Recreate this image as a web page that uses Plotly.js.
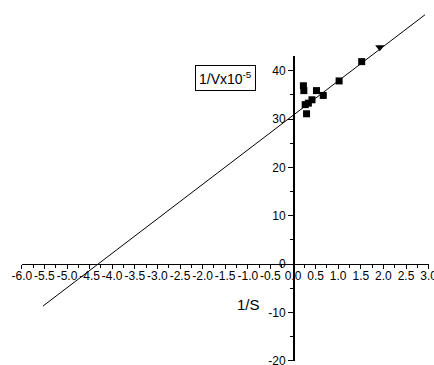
<!DOCTYPE html>
<html>
<head>
<meta charset="utf-8">
<script src="https://cdn.plot.ly/plotly-3.0.1.min.js"></script>
<style>
html,body{margin:0;padding:0;background:#fff;}
#chart{width:434px;height:365px;}
</style>
</head>
<body>
<div id="chart"></div>
<script>
// Data (1/S vs 1/V x 10^-5)
var sqX = [0.23, 0.24, 0.27, 0.30, 0.34, 0.42, 0.52, 0.67, 1.02, 1.52];
var sqY = [36.9, 35.9, 33.0, 31.1, 33.3, 34.0, 35.9, 34.9, 37.9, 41.9];
var triX = [1.92];
var triY = [44.9];
var fitX = [-5.53, 2.92];
var fitY = [-8.7, 51.6];
var xTickVals = [-6,-5.5,-5,-4.5,-4,-3.5,-3,-2.5,-2,-1.5,-1,-0.5,0,0.5,1,1.5,2,2.5,3];
var xTickText = ['-6.0','-5.5','-5.0','-4.5','-4.0','-3.5','-3.0','-2.5','-2.0','-1.5','-1.0','-0.5','0.0','0.5','1.0','1.5','2.0','2.5','3.0'];
var yTickVals = [-20,-10,0,10,20,30,40];
var yTickText = ['-20','-10','0','10','20','30','40'];

var W = 434, H = 365;
var x0px = 293, xScale = 45.2;   // px per unit
var y0px = 264, yScale = 4.83;   // px per unit

var xFull = [(0 - x0px) / xScale, (W - x0px) / xScale];
var yFull = [(y0px - H) / yScale, (y0px - 0) / yScale];

var xDisp = [-6, 3];
var yDisp = [-20, 43];
function xFrac(v){ return (x0px + v * xScale) / W; }
function yFrac(v){ return (H - (y0px - v * yScale)) / H; }

var font = {family: 'Arial, "Liberation Sans", sans-serif', size: 12, color: '#000'};

var traces = [
  {x: fitX, y: fitY, mode: 'lines', type: 'scatter', xaxis: 'x', yaxis: 'y',
   line: {color: '#000', width: 1}, hoverinfo: 'skip'},
  {x: sqX, y: sqY, mode: 'markers', type: 'scatter', xaxis: 'x', yaxis: 'y',
   marker: {symbol: 'square', size: 7, color: '#000'}, cliponaxis: false},
  {x: triX, y: triY, mode: 'markers', type: 'scatter', xaxis: 'x', yaxis: 'y',
   marker: {symbol: 'triangle-down', size: 8, color: '#000'}, cliponaxis: false},
  {x: sqX, y: sqY, mode: 'markers', type: 'scatter', xaxis: 'x2', yaxis: 'y2',
   marker: {size: 1, opacity: 0}, hoverinfo: 'skip'}
];

var layout = {
  width: W, height: H,
  margin: {l: 0, r: 0, t: 0, b: 0, pad: 0},
  paper_bgcolor: '#fff', plot_bgcolor: 'rgba(0,0,0,0)',
  showlegend: false,
  font: font,
  xaxis: {domain: [0, 1], range: xFull, visible: false, fixedrange: true},
  yaxis: {domain: [0, 1], range: yFull, visible: false, fixedrange: true, anchor: 'x'},
  xaxis2: {
    domain: [xFrac(xDisp[0]), xFrac(xDisp[1])], range: xDisp,
    anchor: 'free', position: yFrac(0),
    showline: true, linecolor: '#000', linewidth: 1.2,
    showgrid: false, zeroline: false,
    ticks: 'outside', ticklen: 4, tickwidth: 1, tickcolor: '#000',
    tickmode: 'array', tickvals: xTickVals, ticktext: xTickText, tickangle: 0,
    ticklabeloverflow: 'allow', ticklabelstandoff: -4,
    minor: {ticks: 'outside', ticklen: 2.5, tickwidth: 1, tickcolor: '#000', dtick: 0.25, showgrid: false},
    tickfont: font, fixedrange: true
  },
  yaxis2: {
    domain: [yFrac(yDisp[0]), yFrac(yDisp[1])], range: yDisp,
    anchor: 'free', position: xFrac(0),
    showline: true, linecolor: '#000', linewidth: 1.5,
    showgrid: false, zeroline: false,
    ticks: 'outside', ticklen: 5, tickwidth: 1, tickcolor: '#000',
    tickmode: 'array', tickvals: yTickVals, ticktext: yTickText,
    ticklabeloverflow: 'allow',
    minor: {ticks: 'outside', ticklen: 3, tickwidth: 1, tickcolor: '#000', dtick: 5, showgrid: false},
    tickfont: font, fixedrange: true
  },
  annotations: [
    {text: '1/Vx10<sup>-5</sup>', xref: 'paper', yref: 'paper',
     x: 225.5 / W, y: (H - 78) / H, xanchor: 'center', yanchor: 'middle',
     showarrow: false, bordercolor: '#000', borderwidth: 1, borderpad: 3,
     bgcolor: '#fff', font: {family: font.family, size: 14, color: '#000'}},
    {text: '1/S', xref: 'paper', yref: 'paper',
     x: 248.5 / W, y: (H - 304) / H, xanchor: 'center', yanchor: 'middle',
     showarrow: false, font: {family: font.family, size: 15, color: '#000'}}
  ]
};

Plotly.newPlot('chart', traces, layout, {displayModeBar: false, staticPlot: true});
</script>
</body>
</html>
